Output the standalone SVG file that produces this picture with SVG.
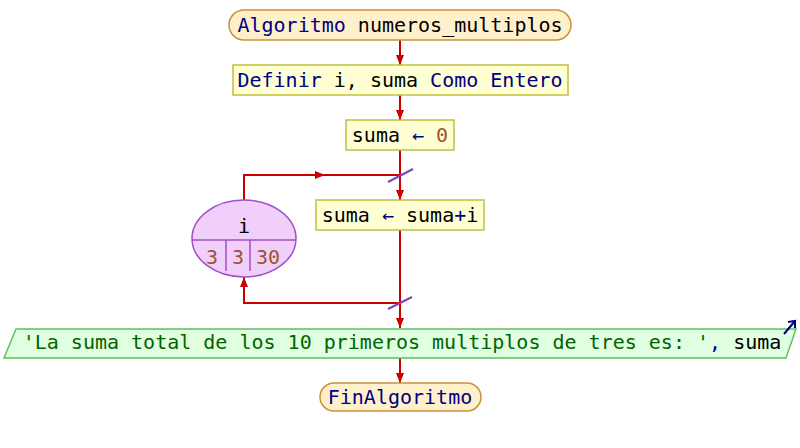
<svg xmlns="http://www.w3.org/2000/svg" width="800" height="448" viewBox="0 0 800 448">
  <style>
    text { font-family: "DejaVu Sans Mono", "Liberation Mono", monospace; font-size: 20px; }
    .c { text-anchor: middle; }
    .kw { fill: #000080; }
    .var { fill: #000000; }
    .num { fill: #a0522d; }
    .str { fill: #006400; }
    .term { fill: #fff0cc; stroke: #c8913a; stroke-width: 1.5; }
    .proc { fill: #ffffd4; stroke: #c0c040; stroke-width: 1.5; }
    .out { fill: #e0ffe0; stroke: #60c060; stroke-width: 1.5; }
    .loop { fill: #f0d0fa; stroke: #a050c8; stroke-width: 1.5; }
    .flow { fill: none; stroke: #cc0000; stroke-width: 2; }
    .tick { stroke: #8040c0; stroke-width: 2; }
  </style>
  <defs>
    <marker id="ah" viewBox="0 0 10 8" refX="10" refY="4" markerWidth="10" markerHeight="8" markerUnits="userSpaceOnUse" orient="auto">
      <path d="M0,0 L10,4 L0,8 Z" fill="#cc0000"/>
    </marker>
    <marker id="mid" viewBox="0 0 10 8" refX="5" refY="4" markerWidth="10" markerHeight="8" markerUnits="userSpaceOnUse" orient="auto">
      <path d="M0,0 L10,4 L0,8 Z" fill="#cc0000"/>
    </marker>
  </defs>

  <g id="connectors">
    <line class="flow" x1="400" y1="40" x2="400" y2="65" marker-end="url(#ah)"/>
    <line class="flow" x1="400" y1="95" x2="400" y2="120" marker-end="url(#ah)"/>
    <line class="flow" x1="400" y1="150" x2="400" y2="200" marker-end="url(#ah)"/>
    <line class="flow" x1="400" y1="230" x2="400" y2="328" marker-end="url(#ah)"/>
    <line class="flow" x1="400" y1="358" x2="400" y2="383" marker-end="url(#ah)"/>
    <!-- loop back edges -->
    <polyline class="flow" points="244,200 244,175 320,175"  marker-end="url(#mid)"/>
    <line class="flow" x1="316" y1="175" x2="400" y2="175"/>
    <polyline class="flow" points="400,303 244,303 244,277" marker-end="url(#ah)"/>
    <line class="tick" x1="388" y1="182" x2="413" y2="169"/>
    <line class="tick" x1="388" y1="309" x2="412" y2="297"/>
  </g>

  <g id="start">
    <rect class="term" x="229" y="10" width="342" height="30" rx="15" ry="15"/>
    <text class="c" x="400" y="32"><tspan class="kw">Algoritmo</tspan><tspan class="var"> numeros_multiplos</tspan></text>
  </g>

  <g id="define">
    <rect class="proc" x="233" y="65" width="335" height="30"/>
    <text class="c" x="400" y="87"><tspan class="kw">Definir</tspan><tspan class="var"> i, suma </tspan><tspan class="kw">Como Entero</tspan></text>
  </g>

  <g id="init">
    <rect class="proc" x="346" y="120" width="108" height="30"/>
    <text class="c" x="400" y="142"><tspan class="var">suma </tspan><tspan class="kw">←</tspan><tspan class="num"> 0</tspan></text>
  </g>

  <g id="for-loop">
    <ellipse class="loop" cx="244" cy="238.5" rx="52" ry="38.5"/>
    <line class="loop" x1="192" y1="240" x2="296" y2="240"/>
    <line class="loop" x1="226" y1="240" x2="226" y2="271"/>
    <line class="loop" x1="250" y1="240" x2="250" y2="271"/>
    <text class="c var" x="244" y="233">i</text>
    <text class="c num" x="212" y="264">3</text>
    <text class="c num" x="238" y="264">3</text>
    <text class="c num" x="268" y="264">30</text>
  </g>

  <g id="accumulate">
    <rect class="proc" x="316" y="200" width="168" height="30"/>
    <text class="c" x="400" y="222"><tspan class="var">suma </tspan><tspan class="kw">←</tspan><tspan class="var"> suma</tspan><tspan class="kw">+</tspan><tspan class="var">i</tspan></text>
  </g>

  <g id="output">
    <polygon class="out" points="16,329 796,329 786,358 4,358"/>
    <text class="c" x="402" y="349"><tspan class="str">'La suma total de los 10 primeros multiplos de tres es: '</tspan><tspan class="kw">, </tspan><tspan class="var">suma</tspan></text>
    <line x1="784" y1="334" x2="795" y2="321" stroke="#000080" stroke-width="2"/>
    <polyline points="788,322 795,321 795,328" fill="none" stroke="#000080" stroke-width="2"/>
  </g>

  <g id="end">
    <rect class="term" x="320" y="383" width="161" height="28" rx="14" ry="14"/>
    <text class="c kw" x="400" y="404">FinAlgoritmo</text>
  </g>
</svg>
